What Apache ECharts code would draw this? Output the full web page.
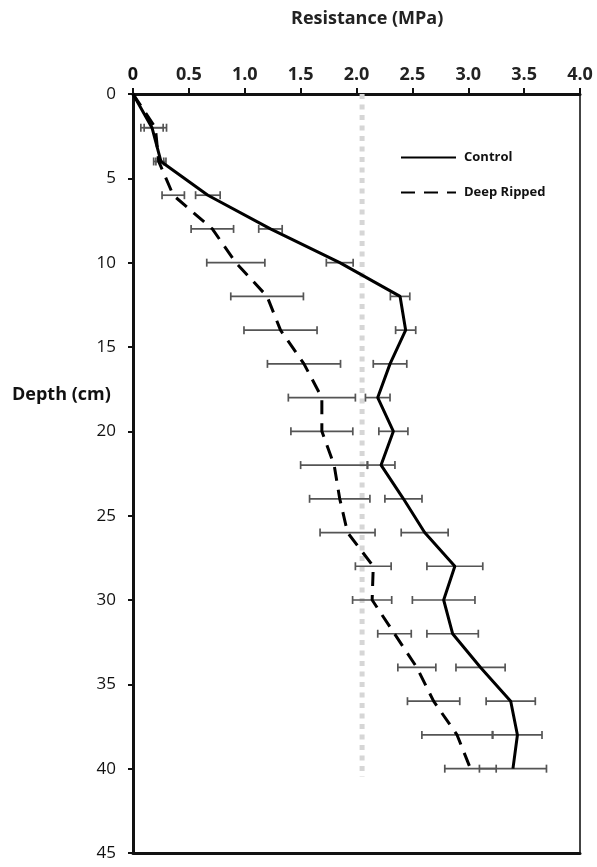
<!DOCTYPE html>
<html>
<head>
<meta charset="utf-8">
<script src="https://cdn.jsdelivr.net/npm/echarts@6/dist/echarts.min.js"></script>
<style>html,body{margin:0;padding:0;background:#fff}#c{width:597px;height:867px}</style>
</head>
<body>
<div id="c"></div>
<script>
// Depth (cm) of each measurement
const depths = [0, 2, 4, 6, 8, 10, 12, 14, 16, 18, 20, 22, 24, 26, 28, 30, 32, 34, 36, 38, 40];
// Resistance (MPa) - Control
const controlVals = [0, 0.17, 0.25, 0.67, 1.23, 1.85, 2.39, 2.44, 2.30, 2.19, 2.33, 2.22, 2.42, 2.61, 2.88, 2.78, 2.86, 3.11, 3.38, 3.44, 3.40];
const controlErr  = [0, 0.10, 0.045, 0.11, 0.105, 0.12, 0.087, 0.09, 0.15, 0.11, 0.13, 0.124, 0.166, 0.21, 0.25, 0.28, 0.23, 0.22, 0.22, 0.22, 0.30];
// Resistance (MPa) - Deep Ripped
const rippedVals = [0, 0.20, 0.23, 0.36, 0.71, 0.92, 1.20, 1.32, 1.53, 1.69, 1.69, 1.80, 1.85, 1.92, 2.15, 2.14, 2.34, 2.54, 2.69, 2.90, 3.02];
const rippedErr  = [0, 0.10, 0.045, 0.10, 0.19, 0.26, 0.325, 0.327, 0.327, 0.30, 0.277, 0.30, 0.27, 0.246, 0.16, 0.175, 0.15, 0.17, 0.234, 0.315, 0.23];
// Reference dotted line
const refValue = 2.05;
const refDepthRange = [0, 40.5];
// Tick labels
const xTickLabels = ['0', '0.5', '1.0', '1.5', '2.0', '2.5', '3.0', '3.5', '4.0'];
const yTickLabels = ['0', '5', '10', '15', '20', '25', '30', '35', '40', '45'];

const FONT = 'Open Sans';
const chart = echarts.init(document.getElementById('c'));

function errSeries(vals, errs) {
  const data = [];
  depths.forEach((d, i) => { if (errs[i] > 0) data.push([vals[i], d, errs[i]]); });
  return {
    type: 'custom',
    xAxisIndex: 0, yAxisIndex: 0,
    z: 2,
    silent: true,
    data: data,
    encode: { x: 0, y: 1 },
    renderItem: function (params, api) {
      const c = api.value(0), d = api.value(1), e = api.value(2);
      const p1 = api.coord([c - e, d]);
      const p2 = api.coord([c + e, d]);
      const h = 4;
      const st = { stroke: '#555', lineWidth: 1.7 };
      return {
        type: 'group',
        children: [
          { type: 'line', shape: { x1: p1[0], y1: p1[1], x2: p2[0], y2: p2[1] }, style: st },
          { type: 'line', shape: { x1: p1[0], y1: p1[1] - h, x2: p1[0], y2: p1[1] + h }, style: st },
          { type: 'line', shape: { x1: p2[0], y1: p2[1] - h, x2: p2[0], y2: p2[1] + h }, style: st }
        ]
      };
    }
  };
}

const option = {
  animation: false,
  backgroundColor: '#fff',
  grid: { left: 133, top: 94, right: 17, bottom: 14, containLabel: false },
  xAxis: [{
    type: 'value', position: 'top', min: 0, max: 4, interval: 0.5,
    axisLine: { show: true, onZero: false, lineStyle: { color: '#111', width: 3 } },
    axisTick: { show: true, inside: false, length: 6, lineStyle: { color: '#111', width: 2 } },
    splitLine: { show: false },
    axisLabel: {
      margin: 10, fontFamily: FONT, fontSize: 18, fontWeight: 'bold', color: '#222',
      formatter: function (v) {
        const t = xTickLabels[Math.round(v / 0.5)];
        return v === 0 ? '{z|' + t + '}' : t;
      },
      rich: { z: { fontFamily: FONT, fontSize: 18, fontWeight: 'bold', color: '#111', lineHeight: 18, padding: [0, 0, 0, 0], height: 18, verticalAlign: 'top' } }
    }
  }, {
    type: 'value', position: 'bottom', min: 0, max: 4,
    axisLine: { show: true, onZero: false, lineStyle: { color: '#111', width: 3 } },
    axisTick: { show: false }, axisLabel: { show: false }, splitLine: { show: false }
  }],
  yAxis: [{
    type: 'value', inverse: true, min: 0, max: 45, interval: 5, position: 'left',
    axisLine: { show: true, onZero: false, lineStyle: { color: '#111', width: 3 } },
    axisTick: { show: true, length: 5, lineStyle: { color: '#111', width: 2 } },
    splitLine: { show: false },
    axisLabel: {
      margin: 17, fontFamily: FONT, fontSize: 17, color: '#111',
      formatter: function (v) { return yTickLabels[Math.round(v / 5)]; }
    }
  }, {
    type: 'value', inverse: true, min: 0, max: 45, position: 'right',
    axisLine: { show: true, onZero: false, lineStyle: { color: '#444', width: 2 } },
    axisTick: { show: false }, axisLabel: { show: false }, splitLine: { show: false }
  }],
  legend: {
    orient: 'vertical', left: 395, top: 146,
    itemWidth: 55, itemHeight: 14, itemGap: 22,
    data: ['Control', 'Deep Ripped'],
    itemStyle: { opacity: 0 },
    textStyle: { fontFamily: FONT, fontSize: 13, fontWeight: 'bold', color: '#111', padding: [0, 0, 0, 3] }
  },
  graphic: [
    { type: 'text', left: 291, top: 10, style: { text: 'Resistance (MPa)', font: 'bold 18px "Open Sans"', fill: '#222' } },
    { type: 'text', left: 12, top: 386, style: { text: 'Depth (cm)', font: 'bold 18px "Open Sans"', fill: '#111' } }
  ],
  series: [
    {
      name: 'ref', type: 'line', silent: true, symbol: 'none', z: 1,
      data: refDepthRange.map(d => [refValue, d]),
      lineStyle: { color: '#d6d6d6', width: 5, type: [5, 5.5] }
    },
    errSeries(controlVals, controlErr),
    errSeries(rippedVals, rippedErr),
    {
      name: 'Control', type: 'line', symbol: 'none', z: 5,
      data: depths.map((d, i) => [controlVals[i], d]),
      lineStyle: { color: '#000', width: 3 }, itemStyle: { color: '#000' }
    },
    {
      name: 'Deep Ripped', type: 'line', symbol: 'none', z: 5,
      data: depths.map((d, i) => [rippedVals[i], d]),
      lineStyle: { color: '#000', width: 3, type: [14, 9] }, itemStyle: { color: '#000' }
    }
  ]
};
chart.setOption(option);
</script>
</body>
</html>
